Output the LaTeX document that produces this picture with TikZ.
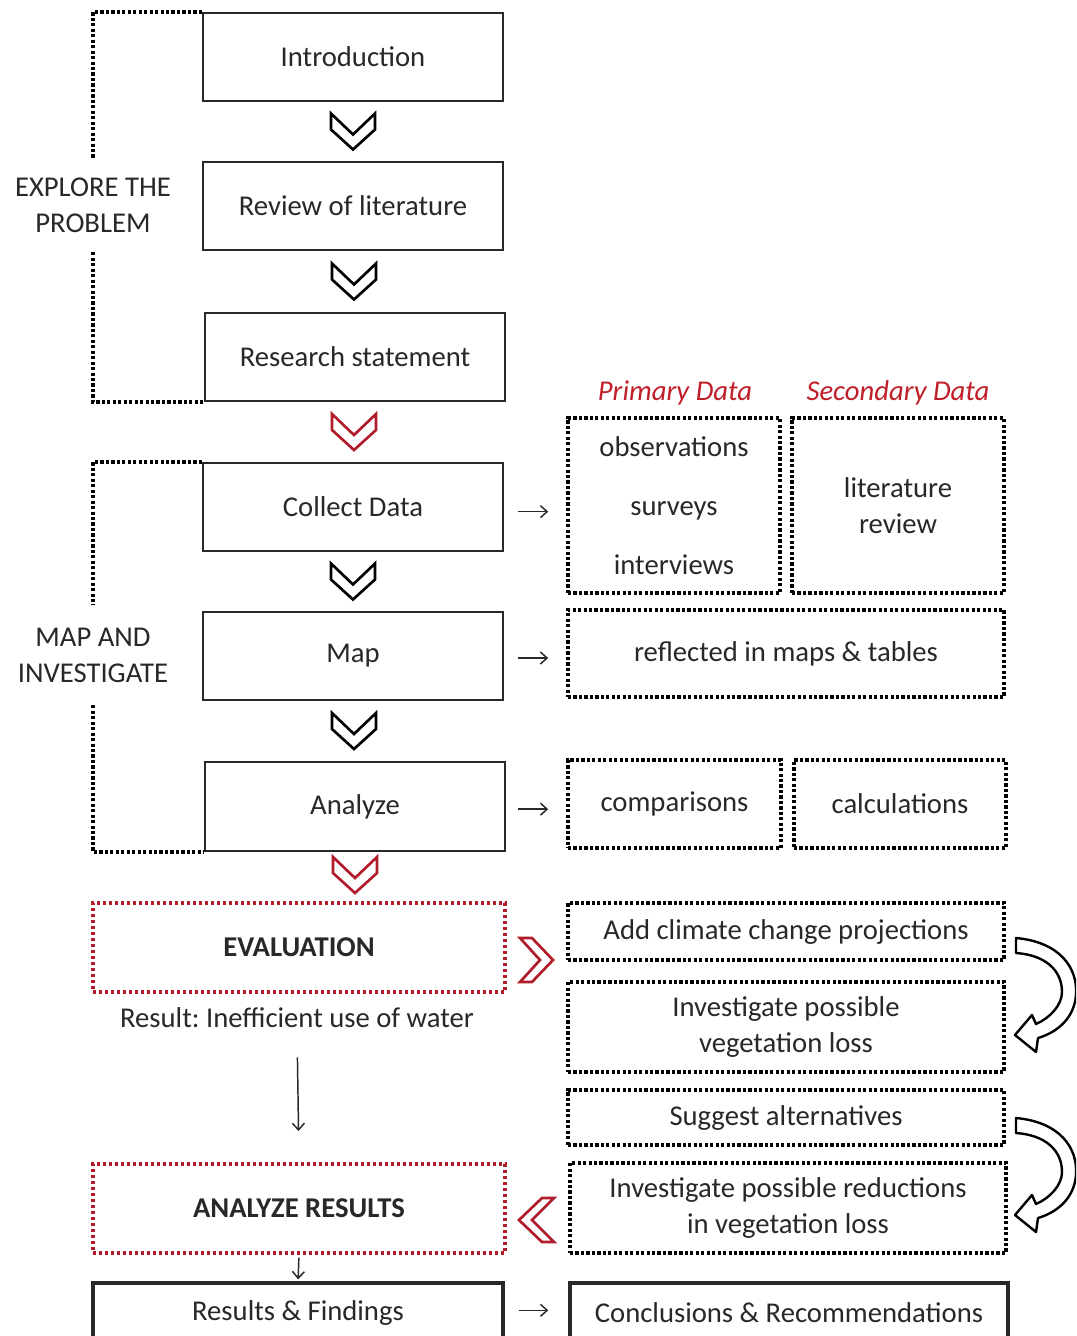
\documentclass[tikz,border=0pt]{standalone}
\usepackage{fontspec}
\setmainfont{Carlito}
\usetikzlibrary{arrows.meta}
\definecolor{txt}{RGB}{40,40,40}
\definecolor{dred}{RGB}{176,28,42}
\definecolor{lred}{RGB}{192,30,40}
\newcommand\myfs{\fontsize{21.5pt}{27pt}\selectfont}
\frenchspacing
\begin{document}
\begin{tikzpicture}[x=0.75pt,y=-0.75pt,
  every node/.style={font=\myfs, text=txt},
  box/.style={draw=txt, line width=1.5pt, minimum width=225pt, minimum height=66pt, inner sep=0pt},
  dotbox/.style={draw=black, line width=2.7pt, dash pattern=on 2.4pt off 1.7pt, inner sep=0pt, align=center},
  reddot/.style={draw=dred, line width=3pt, dash pattern=on 2.6pt off 1.9pt, minimum width=309pt, minimum height=66.75pt, inner sep=0pt},
  dotline/.style={draw=black, line width=2.7pt, dash pattern=on 2.4pt off 1.7pt},
  sidelabel/.style={align=center, minimum height=#1, inner sep=0pt},
  arr/.style={-{Straight Barb[length=5pt,width=9pt]}, line width=1.1pt, draw=txt},
  redlab/.style={font=\myfs\itshape, text=lred},
  chevdown/.pic={\draw[line width=2pt, line join=miter, pic actions] (-22,-18) -- (0,3) -- (22,-18) -- (22,-2) -- (0,18) -- (-22,-2) -- cycle;},
  chevright/.pic={\draw[line width=2pt, line join=miter, pic actions] (-15,-22) -- (-3,-22) -- (18,0) -- (-3,22) -- (-15,22) -- (5,0) -- cycle;},
  chevleft/.pic={\draw[line width=2pt, line join=miter, pic actions] (17,-22) -- (5,-22) -- (-18,0) -- (5,22) -- (17,22) -- (-5,0) -- cycle;},
  curvarrow/.pic={\draw[line width=1.8pt, fill=white, line join=round] (0,0) .. controls (44,4) and (62,30) .. (60,57) .. controls (58,82) and (39,95) .. (22,100) -- (20,114) -- (-1,97) -- (16,77) -- (20,86) .. controls (34,80) and (46,67) .. (46,54) .. controls (46,32) and (29,17) .. (0,15) -- cycle;}
]
\clip (0,0) rectangle (1076,1336);
\fill[white] (0,0) rectangle (1076,1336);

% left column
\node[box] (intro) at (353,57) {Introduction};
\node[box] (review) at (353,206) {Review of literature};
\node[box] (rstmt) at (355,357) {Research statement};
\node[box] (collect) at (353,507) {Collect Data};
\node[box] (map) at (353,656) {Map};
\node[box, minimum height=66.75pt] (analyze) at (355,806.5) {Analyze};
\node[sidelabel=70.5pt] (explore) at (93,205) {EXPLORE THE\\PROBLEM};
\node[sidelabel=75pt] (mapinv) at (93,655) {MAP AND\\INVESTIGATE};

\draw[dotline] (intro.north west) -| (explore.north);
\draw[dotline] (explore.south) |- (rstmt.south west);
\draw[dotline] (collect.north west) -| (mapinv.north);
\draw[dotline] (mapinv.south) |- (analyze.south west);

% chevrons between boxes
\path (intro.south) -- coordinate[midway] (c1) (review.north);
\path (review.south) -- coordinate[midway] (c2) (rstmt.north);
\path (rstmt.south) -- coordinate[midway] (c3) (collect.north);
\path (collect.south) -- coordinate[midway] (c4) (map.north);
\path (map.south) -- coordinate[midway] (c5) (analyze.north);
\pic[draw=black] at (c1) {chevdown};
\pic[draw=black] at (c2) {chevdown};
\pic[draw=dred] at (c3) {chevdown};
\pic[draw=black] at (c4) {chevdown};
\pic[draw=black] at (c5) {chevdown};

% right column
\node[redlab] (plab) at (675,393) {Primary Data};
\node[redlab] (slab) at (898,393) {Secondary Data};
\node[dotbox, minimum width=159pt, minimum height=131.25pt, font=\fontsize{21.5pt}{44.25pt}\selectfont] (prim) at (674,505.5) {observations\\surveys\\interviews};
\node[dotbox, minimum width=159pt, minimum height=131.25pt] (sec) at (898,505.5) {literature\\review};
\node[dotbox, minimum width=327pt, minimum height=65.25pt] (maps) at (786,653.5) {reflected in maps \& tables};
\node[dotbox, minimum width=159.75pt, minimum height=66pt] (comp) at (674.5,804) {comparisons};
\node[dotbox, minimum width=159pt, minimum height=66pt] (calc) at (900,804) {calculations};

\draw[arr, shorten <=10.5pt, shorten >=13.5pt, transform canvas={yshift=-3.5pt}] (collect.east) -- (collect.east -| prim.west);
\draw[arr, shorten <=10.5pt, shorten >=13.5pt, transform canvas={yshift=-1.5pt}] (map.east) -- (map.east -| maps.west);
\draw[arr, shorten <=9pt, shorten >=13.5pt, transform canvas={yshift=-2pt}] (analyze.east) -- (analyze.east -| comp.west);

% chevron to evaluation
\pic[draw=dred] at (355,875) {chevdown};

% evaluation block
\node[reddot] (eval) at (299,947.5) {\textbf{EVALUATION}};
\node[inner sep=0pt] (result) at (297,1018) {Result: Inefficient use of water};
\node[dotbox, minimum width=327pt, minimum height=42.75pt] (climate) at (786,931.5) {Add climate change projections};
\node[dotbox, minimum width=327pt, minimum height=67.5pt] (veg) at (786,1027) {Investigate possible\\vegetation loss};
\node[dotbox, minimum width=327pt, minimum height=41.25pt] (alt) at (786,1117.5) {Suggest alternatives};
\node[dotbox, minimum width=327pt, minimum height=67.5pt] (redu) at (788,1208) {Investigate possible reductions\\in vegetation loss};
\node[reddot] (anres) at (299,1208.5) {\textbf{ANALYZE RESULTS}};

\pic[draw=dred] at (535,960) {chevright};
\pic[draw=dred] at (537,1220) {chevleft};
\pic at (1016,938) {curvarrow};
\pic at (1016,1118) {curvarrow};

\draw[arr, shorten <=21.75pt, shorten >=23.25pt] (result.south) -- (anres.north);

% bottom row
\node[box, line width=2.6pt, minimum width=307.5pt, minimum height=45pt] (results) at (298,1313) {Results \& Findings};
\node[box, line width=2.6pt, minimum width=328.5pt, minimum height=45pt] (concl) at (789,1313) {Conclusions \& Recommendations};
\draw[arr, shorten <=2pt, shorten >=1.5pt] (anres.south) -- (results.north);
\draw[arr, shorten <=10.5pt, shorten >=15pt, transform canvas={yshift=2pt}] (results.east) -- (concl.west);
\end{tikzpicture}
\end{document}
